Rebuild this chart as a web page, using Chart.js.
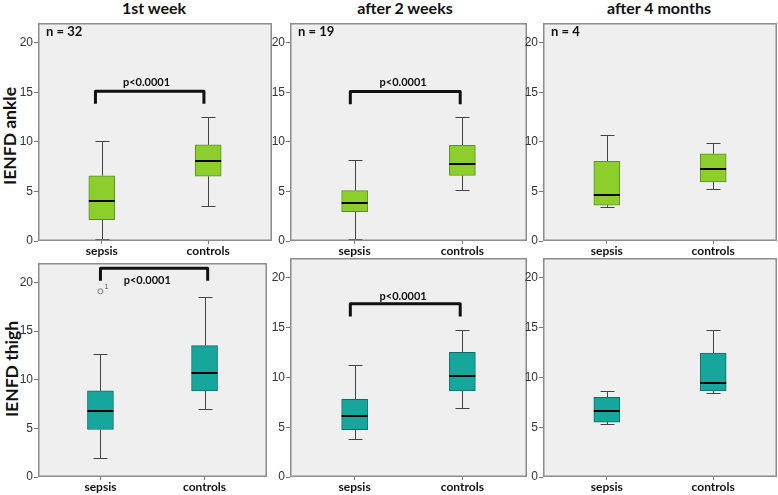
<!DOCTYPE html>
<html lang="en">
<head>
<meta charset="UTF-8">
<title>IENFD ankle / thigh</title>
<style>
  body { margin: 0; background: #fff; width: 778px; height: 495px; position: relative; overflow: hidden; font-family: Lato, sans-serif; color: #111; }
  canvas { position: absolute; }
  .col-title { position: absolute; top: 0; width: 200px; margin-left: -100px; text-align: center; font-weight: bold; font-size: 16px; line-height: 16px; }
  .row-title { position: absolute; white-space: nowrap; font-weight: bold; font-size: 17.5px; transform: translate(-50%, -50%) rotate(-90deg); }
</style>
</head>
<body>

<div class="col-title" style="left:154px">1st week</div>
<div class="col-title" style="left:405px">after 2 weeks</div>
<div class="col-title" style="left:659px">after 4 months</div>
<div class="row-title" style="left:9px; top:136px">IENFD ankle</div>
<div class="row-title" style="left:11px; top:369px">IENFD thigh</div>

<script src="https://cdn.jsdelivr.net/npm/chart.js@4.4.0/dist/chart.umd.min.js"></script>
<script>
// groups and tick labels
const categories = ['sepsis', 'controls'];
const counts = ['n = 32', 'n = 19', 'n = 4'];
const yTicks = [0, 5, 10, 15, 20];

// box stats per period: [lower whisker, Q1, median, Q3, upper whisker]
const ankleSepsis   = [[0.24, 2.16, 4.01, 6.58, 10.12], [0.24, 2.97, 3.88, 5.09, 8.2],  [3.47, 3.61, 4.62, 8.03, 10.66]];
const ankleControls = [[3.54, 6.54, 8.06, 9.71, 12.48], [5.16, 6.61, 7.82, 9.65, 12.48], [5.26, 5.97, 7.25, 8.8, 9.85]];
const thighSepsis   = [[1.99, 4.88, 6.77, 8.86, 12.63], [3.84, 4.75, 6.13, 7.81, 11.25], [5.32, 5.52, 6.63, 8.01, 8.59]];
const thighControls = [[6.94, 8.86, 10.71, 13.5, 18.48], [6.97, 8.65, 10.17, 12.53, 14.75], [8.48, 8.65, 9.49, 12.46, 14.75]];

// outliers (group index, value, case label)
const ankleOutliers = [[], [], []];
const thighOutliers = [[{ x: 0, y: 19.09, label: '1' }], [], []];

// significance brackets: [from, to, bar level, leg end, label x, label y]
const ankleBrackets = [[-0.06, 0.96, 15.1, 13.86, 0.42, 16.0], [-0.04, 0.98, 15.08, 13.8, 0.45, 16.0], null];
const thighBrackets = [[0, 1.03, 21.45, 20.17, 0.45, 20.2], [-0.04, 0.98, 17.41, 16.13, 0.45, 18.15], null];
const pLabel = 'p<0.0001';

const rows = [
  { sepsis: ankleSepsis, controls: ankleControls, outliers: ankleOutliers, brackets: ankleBrackets, fill: '#8cce2c', edge: '#5e8f22' },
  { sepsis: thighSepsis, controls: thighControls, outliers: thighOutliers, brackets: thighBrackets, fill: '#16a69b', edge: '#0e6e66' }
];

// frame geometry of each panel
const colLeft = [38, 290, 543], colWidth = [234, 237, 234];
const rowTop = [23, 258], rowHeight = [218, 219];
const yAxisW = 20, xAxisH = 20, boxW = 26;

const decor = {
  id: 'decor',
  beforeDraw(chart) {
    const { ctx, chartArea: a } = chart;
    ctx.save();
    ctx.fillStyle = '#efefef';
    ctx.fillRect(a.left, a.top, a.width, a.height);
    ctx.restore();
  },
  beforeDatasetsDraw(chart, args, o) {
    // whiskers
    const { ctx, scales: { x, y } } = chart;
    ctx.save();
    ctx.strokeStyle = '#444';
    ctx.lineWidth = 1;
    o.stats.forEach((s, i) => {
      const px = Math.round(x.getPixelForValue(i)) + 0.5;
      [[s[0], s[1]], [s[4], s[3]]].forEach(([end, edge]) => {
        const ye = Math.round(y.getPixelForValue(end)) + 0.5;
        const yb = y.getPixelForValue(edge);
        ctx.beginPath();
        ctx.moveTo(px, yb); ctx.lineTo(px, ye);
        ctx.moveTo(px - 7, ye); ctx.lineTo(px + 7, ye);
        ctx.stroke();
      });
    });
    ctx.restore();
  },
  afterDatasetsDraw(chart, args, o) {
    // medians
    const { ctx, scales: { x, y } } = chart;
    ctx.save();
    ctx.strokeStyle = '#000';
    ctx.lineWidth = 2;
    o.stats.forEach((s, i) => {
      const px = x.getPixelForValue(i), py = Math.round(y.getPixelForValue(s[2]));
      ctx.beginPath();
      ctx.moveTo(px - boxW / 2, py); ctx.lineTo(px + boxW / 2, py);
      ctx.stroke();
    });
    // outlier case labels
    ctx.fillStyle = '#555';
    ctx.font = '7px "Liberation Sans", sans-serif';
    o.outliers.forEach(p => {
      ctx.fillText(p.label, x.getPixelForValue(p.x) + 4, y.getPixelForValue(p.y) - 2);
    });
    ctx.restore();
  },
  afterDraw(chart, args, o) {
    const { ctx, chartArea: a, scales: { x, y } } = chart;
    ctx.save();
    ctx.strokeStyle = '#8c8c8c';
    ctx.lineWidth = 1.5;
    ctx.strokeRect(a.left + 0.75, a.top + 0.75, a.width - 1.5, a.height - 1.5);
    if (o.count) {
      ctx.fillStyle = '#111';
      ctx.font = 'bold 13px Lato, sans-serif';
      ctx.textBaseline = 'middle';
      ctx.fillText(o.count, a.left + 8, a.top + 9);
    }
    const b = o.bracket;
    if (b) {
      const x0 = x.getPixelForValue(b[0]), x1 = x.getPixelForValue(b[1]);
      const yb = y.getPixelForValue(b[2]), yl = y.getPixelForValue(b[3]);
      ctx.strokeStyle = '#111';
      ctx.lineWidth = 3;
      ctx.lineJoin = 'round';
      ctx.beginPath();
      ctx.moveTo(x0, yl); ctx.lineTo(x0, yb); ctx.lineTo(x1, yb); ctx.lineTo(x1, yl);
      ctx.stroke();
      ctx.fillStyle = '#111';
      ctx.font = 'bold 11px Lato, sans-serif';
      ctx.textAlign = 'center';
      ctx.textBaseline = 'middle';
      ctx.fillText(pLabel, x.getPixelForValue(b[4]), y.getPixelForValue(b[5]));
    }
    ctx.restore();
  }
};

function makePanel(r, c) {
  const row = rows[r];
  const sep = row.sepsis[c], con = row.controls[c];
  const canvas = document.createElement('canvas');
  canvas.width = colWidth[c] + yAxisW;
  canvas.height = rowHeight[r] + xAxisH;
  canvas.style.left = (colLeft[c] - yAxisW) + 'px';
  canvas.style.top = rowTop[r] + 'px';
  document.body.appendChild(canvas);

  return new Chart(canvas, {
    type: 'bar',
    data: {
      datasets: [{
        type: 'bar',
        data: [{ x: 0, y: [sep[1], sep[3]] }, { x: 1, y: [con[1], con[3]] }],
        backgroundColor: row.fill,
        borderColor: row.edge,
        borderWidth: 1,
        borderSkipped: false,
        barThickness: boxW
      }, {
        type: 'scatter',
        data: row.outliers[c],
        pointRadius: 2.5,
        pointBackgroundColor: 'rgba(0,0,0,0)',
        pointBorderColor: '#777',
        pointBorderWidth: 1
      }]
    },
    options: {
      responsive: false,
      animation: false,
      layout: { padding: 0 },
      plugins: {
        legend: { display: false },
        tooltip: { enabled: false },
        decor: {
          stats: [sep, con],
          outliers: row.outliers[c],
          bracket: row.brackets[c],
          count: r === 0 ? counts[c] : null
        }
      },
      scales: {
        x: {
          type: 'linear', min: -0.6, max: 1.6, offset: false,
          afterBuildTicks: s => { s.ticks = categories.map((_, i) => ({ value: i })); },
          afterFit: s => { s.height = xAxisH; s.paddingLeft = 0; s.paddingRight = 0; },
          ticks: {
            callback: v => categories[v],
            font: { family: 'Lato', weight: 'bold', size: 12 },
            color: '#111', padding: 0, maxRotation: 0, autoSkip: false
          },
          grid: { offset: false, drawOnChartArea: false, tickLength: 3, color: '#777' },
          border: { display: false }
        },
        y: {
          type: 'linear', min: 0, max: 22,
          afterBuildTicks: s => { s.ticks = yTicks.map(v => ({ value: v })); },
          afterFit: s => { s.width = yAxisW; s.paddingTop = 0; s.paddingBottom = 0; },
          ticks: {
            font: { family: "'Liberation Sans Narrow', 'Liberation Sans', sans-serif", size: 12 },
            color: '#333', padding: 1
          },
          grid: { drawOnChartArea: false, tickLength: 4, color: '#777' },
          border: { display: false }
        }
      }
    },
    plugins: [decor]
  });
}

for (let r = 0; r < 2; r++) {
  for (let c = 0; c < 3; c++) makePanel(r, c);
}
</script>
</body>
</html>
